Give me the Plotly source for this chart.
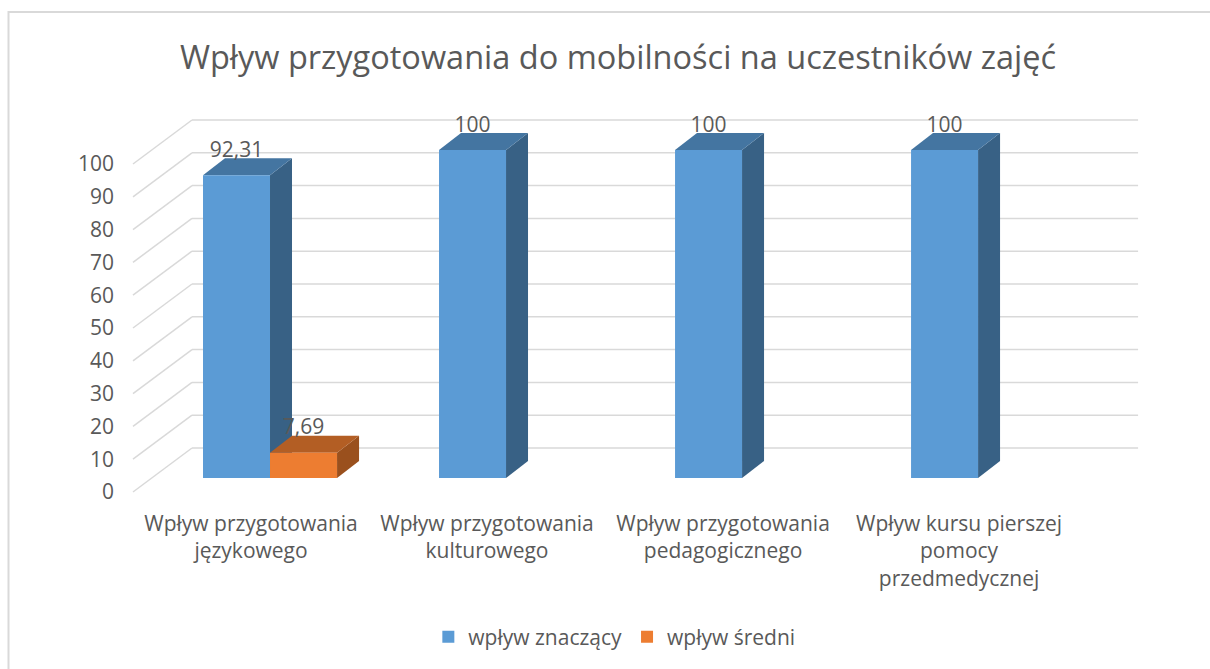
import plotly.graph_objects as go

# ---------------- data ----------------
title_text = "Wpływ przygotowania do mobilności na uczestników zajęć"
categories = [
    "Wpływ przygotowania<br>językowego",
    "Wpływ przygotowania<br>kulturowego",
    "Wpływ przygotowania<br>pedagogicznego",
    "Wpływ kursu pierszej<br>pomocy<br>przedmedycznej",
]
series_names = ["wpływ znaczący", "wpływ średni"]
znaczacy = [92.31, 100, 100, 100]
sredni = [7.69, None, None, None]
y_ticks = [0, 10, 20, 30, 40, 50, 60, 70, 80, 90, 100]

# ---------------- style / geometry ----------------
FONT = "Open Sans"
TXT = "#595959"
GRID = "#D9D9D9"
front_col = ["#5B9BD5", "#ED7D31"]
top_col = ["#4475A1", "#B35E24"]
side_col = ["#386185", "#9A501D"]

BAR_W = 0.284          # width of one bar (category units)
DEPTH_X = 0.0932       # bar depth projected on x
DEPTH_Y = 5.18         # bar depth projected on y (value units)
LABEL_DX = -0.0805     # front (label) plane offset vs bar front plane
LABEL_DY = -4.27
WALL_DX = 0.1695       # back wall offset vs bar front plane
WALL_DY = 9.146
WALL_RIGHT = 3.678

X_RANGE = [-0.6356, 3.898]
Y_RANGE = [-6.71, 115.24]

series_vals = [znaczacy, sredni]
xs = list(range(len(categories)))

fig = go.Figure()
shapes = []

# back wall gridlines + floor-to-wall diagonals
for v in y_ticks:
    x_front = X_RANGE[0] + 0.055
    shapes.append(dict(type="line", xref="x", yref="y",
                       x0=x_front, y0=v + LABEL_DY,
                       x1=x_front + (WALL_DX - LABEL_DX), y1=v + WALL_DY,
                       line=dict(color=GRID, width=1.5), layer="below"))
    shapes.append(dict(type="line", xref="x", yref="y",
                       x0=x_front + (WALL_DX - LABEL_DX), y0=v + WALL_DY,
                       x1=WALL_RIGHT, y1=v + WALL_DY,
                       line=dict(color=GRID, width=1.5), layer="below"))

# 3D faces (top + side) for each bar, computed from the data values
for j, vals in enumerate(series_vals):
    for i, v in zip(xs, vals):
        if v is None:
            continue
        x0 = i + (j - 1) * BAR_W
        x1 = x0 + BAR_W
        side = (f"M{x1},0 L{x1},{v} L{x1 + DEPTH_X},{v + DEPTH_Y} "
                f"L{x1 + DEPTH_X},{DEPTH_Y} Z")
        top = (f"M{x0},{v} L{x1},{v} L{x1 + DEPTH_X},{v + DEPTH_Y} "
               f"L{x0 + DEPTH_X},{v + DEPTH_Y} Z")
        shapes.append(dict(type="path", xref="x", yref="y", path=side,
                           fillcolor=side_col[j], line=dict(width=0), layer="below"))
        shapes.append(dict(type="path", xref="x", yref="y", path=top,
                           fillcolor=top_col[j], line=dict(width=0), layer="below"))

# front faces as bars
for j, (name, vals) in enumerate(zip(series_names, series_vals)):
    fig.add_trace(go.Bar(x=xs, y=vals, name=name,
                         marker=dict(color=front_col[j], line=dict(width=0)),
                         hoverinfo="skip"))

# data labels above bar tops
for j, vals in enumerate(series_vals):
    lx, ly, lt = [], [], []
    for i, v in zip(xs, vals):
        if v is None:
            continue
        lx.append(i + (j - 1) * BAR_W + BAR_W / 2)
        ly.append(v + DEPTH_Y - 1.2)
        lt.append(f"{v:g}".replace(".", ","))
    fig.add_trace(go.Scatter(x=lx, y=ly, text=lt, mode="text",
                             textposition="top center",
                             textfont=dict(family=FONT, size=21, color=TXT),
                             showlegend=False, hoverinfo="skip"))

# outer chart border
shapes.append(dict(type="rect", xref="paper", yref="paper",
                   x0=-0.1042, x1=1.03, y0=-0.45, y1=1.22,
                   line=dict(color=GRID, width=2), layer="below"))

fig.update_layout(
    width=1210, height=669,
    margin=dict(l=120, r=20, t=100, b=169),
    paper_bgcolor="white", plot_bgcolor="white",
    barmode="group", bargap=0.4322, bargroupgap=0,
    shapes=shapes,
    title=dict(text=title_text, x=0.5107, xref="container", xanchor="center",
               y=0.9133, yref="container", yanchor="middle",
               font=dict(family=FONT, size=32.5, color=TXT)),
    legend=dict(orientation="h", x=0.462, xanchor="center", y=-0.3425,
                yanchor="middle", font=dict(family=FONT, size=21, color=TXT),
                itemwidth=30, traceorder="normal"),
    font=dict(family=FONT, color=TXT),
)
fig.update_xaxes(range=X_RANGE, tickmode="array",
                 tickvals=[i + LABEL_DX for i in xs], ticktext=categories,
                 showgrid=False, zeroline=False, showline=False, ticks="",
                 ticklabelstandoff=9,
                 tickfont=dict(family=FONT, size=21, color=TXT))
fig.update_yaxes(range=Y_RANGE, tickmode="array",
                 tickvals=[v + LABEL_DY for v in y_ticks],
                 ticktext=[str(v) for v in y_ticks],
                 showgrid=False, zeroline=False, showline=False, ticks="",
                 ticklabelstandoff=5,
                 tickfont=dict(family=FONT, size=21, color=TXT))

fig.write_html("out.html", config={"displayModeBar": False},
               post_script="document.body.style.margin='0px';")
